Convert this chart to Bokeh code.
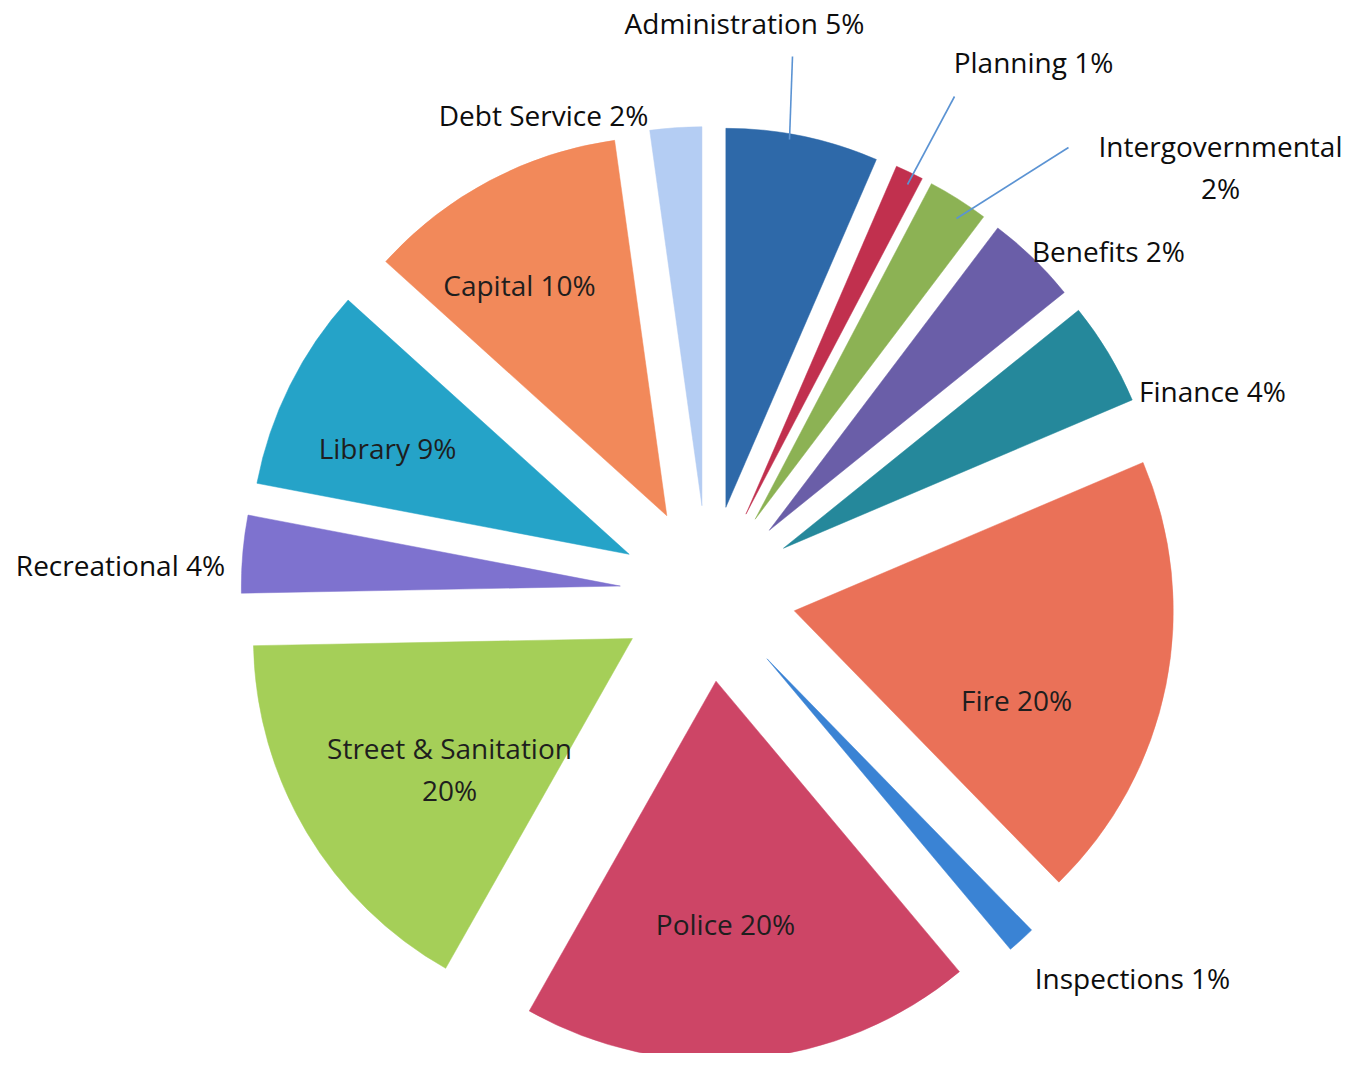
import math
from bokeh.plotting import figure
from bokeh.models import ColumnDataSource, Range1d
from bokeh.embed import file_html
from bokeh.resources import INLINE
from bokeh.core.properties import value

# ---- data ----
categories = ["Administration", "Planning", "Intergovernmental", "Benefits", "Finance",
              "Fire", "Inspections", "Police", "Street & Sanitation", "Recreational",
              "Library", "Capital", "Debt Service"]
shares = [6.5, 1.2, 2.6, 3.9, 4.4, 19.1, 1.2, 19.3, 16.5, 3.3, 8.7, 11.1, 2.2]
label_texts = ["Administration 5%", "Planning 1%", "Intergovernmental\n2%", "Benefits 2%",
               "Finance 4%", "Fire 20%", "Inspections 1%", "Police 20%",
               "Street & Sanitation\n20%", "Recreational 4%", "Library 9%",
               "Capital 10%", "Debt Service 2%"]
colors = ["#2e69a9", "#c1304e", "#8cb254", "#6a5ea8", "#25889b", "#ea7158", "#3a83d4",
          "#cd4566", "#a5cf58", "#7e72cf", "#25a3c8", "#f2895a", "#b4cdf3"]

# ---- layout ----
W, H = 1354, 1053
CX, CY = 715.5, 601.0      # pie centre (page pixels)
R = 379.0                  # radius
EXPLODE = 88.0             # explosion offset
label_pos = [(752, 30), (1041, 69), (1228, 153), (1116, 258), (1220, 398), (1024, 707),
             (1140, 985), (733, 931), (457, 755), (128, 572), (395, 455), (527, 292),
             (551, 122)]
inside = [False, False, False, False, False, True, False, True, True, False, True, True, False]
leaders = {0: ((800, 64), (797, 147)), 1: ((962, 104), (915, 192)),
           2: ((1076, 155), (964, 226))}
LINE_GAP = 42

p = figure(width=W, height=H, output_backend="svg", toolbar_location=None,
           x_range=Range1d(8, 8 + W), y_range=Range1d(-(8 + H), -8),
           min_border=0, outline_line_color=None, background_fill_color="white")
p.axis.visible = False
p.grid.visible = False

total = sum(shares)
xs, ys, starts, ends = [], [], [], []
cum = 0.0
for s in shares:
    b0 = cum / total * 360.0
    cum += s
    b1 = cum / total * 360.0
    bm = math.radians((b0 + b1) / 2)
    xs.append(CX + EXPLODE * math.sin(bm))
    ys.append(-(CY - EXPLODE * math.cos(bm)))
    starts.append(math.radians(90 - b1))
    ends.append(math.radians(90 - b0))

src = ColumnDataSource(dict(x=xs, y=ys, start=starts, end=ends, color=colors, name=categories))
p.wedge(x="x", y="y", radius=R, start_angle="start", end_angle="end", direction="anticlock",
        fill_color="color", line_color="color", line_width=0.5, source=src)

for i, ((x0, y0), (x1, y1)) in leaders.items():
    p.line([x0, x1], [-y0, -y1], line_color="#5b93d3", line_width=1.6)

tx, ty, tt, tc = [], [], [], []
for i, txt in enumerate(label_texts):
    lx, ly = label_pos[i]
    for k, line in enumerate(txt.split("\n")):
        tx.append(lx)
        ty.append(-(ly + k * LINE_GAP))
        tt.append(line)
        tc.append("#1e1e1e" if inside[i] else "#0d0d0d")

p.text(x=tx, y=ty, text=tt, text_color=tc, text_align="center", text_baseline="middle",
       text_font=value("Open Sans"), text_font_size="28px")

open("out.html", "w").write(file_html(p, INLINE))
